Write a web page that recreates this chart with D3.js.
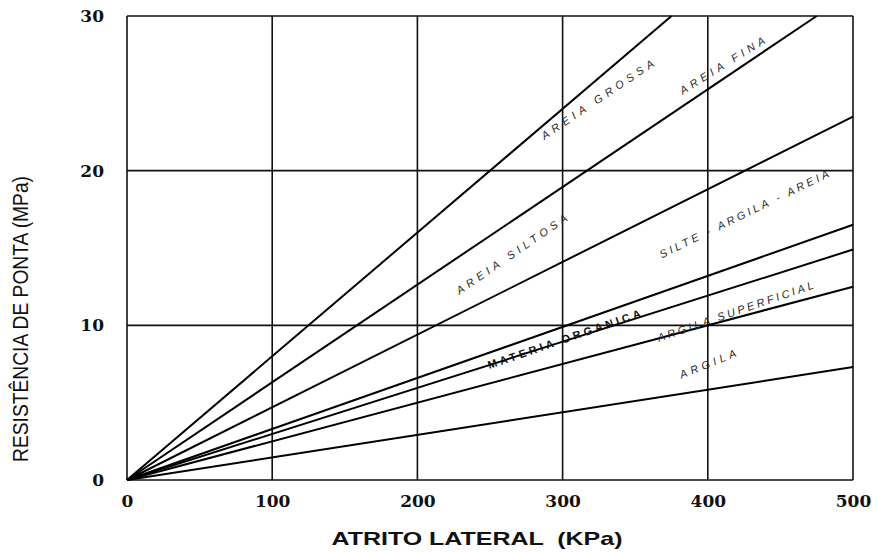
<!DOCTYPE html>
<html>
<head>
<meta charset="utf-8">
<script src="https://cdn.jsdelivr.net/npm/d3@7"></script>
<style>
  body { margin: 0; background: #fff; }
</style>
</head>
<body>
<div id="chart"></div>
<script>
// boundary lines (atrito lateral kPa, resistencia MPa), all start at origin
const lineNames = ["areiaGrossa", "areiaFina", "areiaSiltosa", "silteArgila", "materiaOrganica", "argilaSuperficial", "argila"];
const lineEnds = [[375, 30], [475, 30], [500, 23.5], [500, 16.5], [500, 14.9], [500, 12.5], [500, 7.3]];

// zone labels: text, position in data units, angle on page
const zoneLabels = ["AREIA GROSSA", "AREIA FINA", "AREIA SILTOSA", "SILTE - ARGILA - AREIA", "MATERIA ORGANICA", "ARGILA SUPERFICIAL", "ARGILA"];
const zoneX = [324, 410, 265, 425, 301, 419, 400];
const zoneY = [24.6, 26.8, 14.6, 17.2, 9.1, 10.9, 7.5];
const zoneAngle = [-34, -32, -34.5, -26, -19, -19, -22];
const zoneLen = [133, 98, 132, 187, 161, 164, 60];

const xTicks = [0, 100, 200, 300, 400, 500];
const yTicks = [0, 10, 20, 30];

const svgWidth = 877;
const svgHeight = 553;
const margin = { left: 127, right: 24, top: 16, bottom: 73 };

const svg = d3.select('#chart')
    .append('svg')
    .attr('width', svgWidth)
    .attr('height', svgHeight);

const xScale = d3.scaleLinear()
    .domain([0, 500])
    .range([margin.left, svgWidth - margin.right]);

const yScale = d3.scaleLinear()
    .domain([0, 30])
    .range([svgHeight - margin.bottom, margin.top]);

// grid
svg.append('g')
    .selectAll('line')
    .data(xTicks)
    .join('line')
    .attr('x1', d => xScale(d))
    .attr('x2', d => xScale(d))
    .attr('y1', yScale(0))
    .attr('y2', yScale(30))
    .attr('stroke', '#111')
    .attr('stroke-width', 1.6);

svg.append('g')
    .selectAll('line')
    .data(yTicks)
    .join('line')
    .attr('x1', xScale(0))
    .attr('x2', xScale(500))
    .attr('y1', d => yScale(d))
    .attr('y2', d => yScale(d))
    .attr('stroke', '#111')
    .attr('stroke-width', 1.6);

// axes (labels only)
const xAxis = svg.append('g')
    .attr('transform', `translate(0, ${yScale(0)})`)
    .call(d3.axisBottom(xScale).tickValues(xTicks).tickSize(0).tickPadding(21));
const yAxis = svg.append('g')
    .attr('transform', `translate(${xScale(0)}, 0)`)
    .call(d3.axisLeft(yScale).tickValues(yTicks).tickSize(0).tickPadding(23));

[xAxis, yAxis].forEach(ax => {
    ax.select('.domain').remove();
    ax.selectAll('text')
        .style('font-family', '"DejaVu Serif", serif')
        .style('font-weight', 'bold')
        .style('font-size', '17px')
        .style('fill', '#111');
});
xAxis.selectAll('text').attr('dy', '0.35em');

// boundary lines
const line = d3.line()
    .x(d => xScale(d[0]))
    .y(d => yScale(d[1]));

svg.append('g')
    .selectAll('path')
    .data(lineEnds.map((e, i) => ({ name: lineNames[i], pts: [[0, 0], e] })))
    .join('path')
    .attr('class', d => d.name)
    .attr('d', d => line(d.pts))
    .attr('fill', 'none')
    .attr('stroke', '#000')
    .attr('stroke-width', 2);

// zone labels
svg.append('g')
    .selectAll('text')
    .data(zoneLabels)
    .join('text')
    .attr('transform', (d, i) => `translate(${xScale(zoneX[i])},${yScale(zoneY[i])}) rotate(${zoneAngle[i]})`)
    .attr('text-anchor', 'middle')
    .attr('dy', '0.35em')
    .attr('textLength', (d, i) => zoneLen[i])
    .attr('lengthAdjust', 'spacing')
    .style('font-family', '"Liberation Sans", Arial, sans-serif')
    .style('font-style', (d, i) => i === 4 ? 'normal' : 'italic')
    .style('font-weight', (d, i) => i === 4 ? 'bold' : 'normal')
    .style('font-size', '11px')
    .style('fill', (d, i) => i === 4 ? '#111' : '#2a2a2a')
    .text(d => d);

// axis titles
svg.append('text')
    .attr('x', 477)
    .attr('y', 545)
    .attr('text-anchor', 'middle')
    .attr('xml:space', 'preserve')
    .attr('textLength', 291)
    .attr('lengthAdjust', 'spacingAndGlyphs')
    .style('font-family', '"Liberation Sans", Arial, sans-serif')
    .style('font-weight', 'bold')
    .style('font-size', '19px')
    .style('fill', '#111')
    .text('ATRITO LATERAL  (KPa)');

svg.append('text')
    .attr('transform', 'translate(28, 319) rotate(-90)')
    .attr('text-anchor', 'middle')
    .attr('textLength', 286)
    .attr('lengthAdjust', 'spacingAndGlyphs')
    .style('font-family', '"Liberation Sans Narrow", "Arial Narrow", "Liberation Sans", sans-serif')
    .style('font-size', '22px')
    .style('fill', '#111')
    .text('RESISTÊNCIA DE PONTA (MPa)');
</script>
</body>
</html>
